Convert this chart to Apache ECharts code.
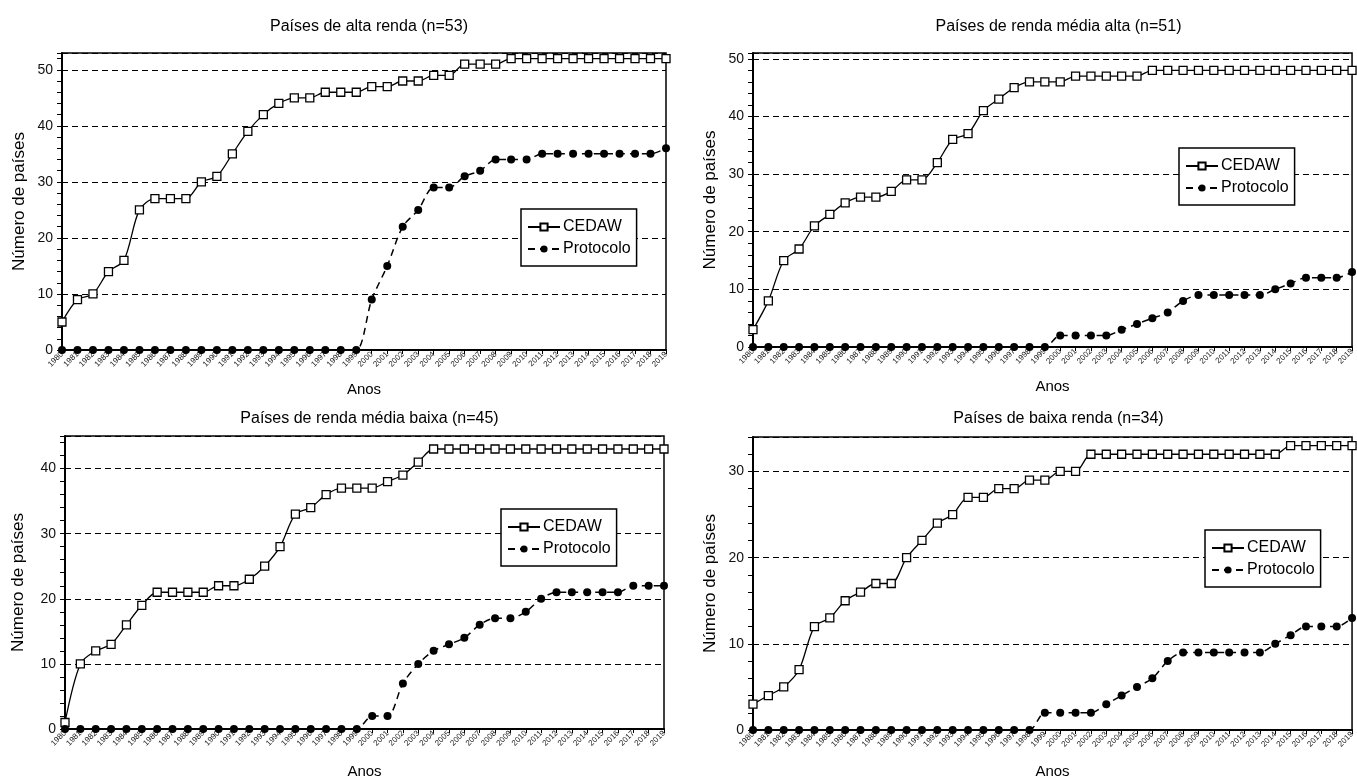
<!DOCTYPE html>
<html>
<head>
<meta charset="utf-8">
<title>Ratificação da CEDAW e do Protocolo Facultativo por grupo de renda</title>
<script src="https://cdn.jsdelivr.net/npm/echarts@6/dist/echarts.min.js"></script>
<style>
  html, body { margin: 0; padding: 0; background: #fff; }
  #chart { width: 1357px; height: 780px; }
</style>
</head>
<body>
<div id="chart"></div>
<script>
// Anos (eixo x)
const years = ['1980','1981','1982','1983','1984','1985','1986','1987','1988','1989',
               '1990','1991','1992','1993','1994','1995','1996','1997','1998','1999',
               '2000','2001','2002','2003','2004','2005','2006','2007','2008','2009',
               '2010','2011','2012','2013','2014','2015','2016','2017','2018','2019'];

const seriesNames = ['CEDAW', 'Protocolo'];

// Países de alta renda (n=53)
const highCedaw = [5, 9, 10, 14, 16, 25, 27, 27, 27, 30,
                   31, 35, 39, 42, 44, 45, 45, 46, 46, 46,
                   47, 47, 48, 48, 49, 49, 51, 51, 51, 52,
                   52, 52, 52, 52, 52, 52, 52, 52, 52, 52];
const highProt  = [0, 0, 0, 0, 0, 0, 0, 0, 0, 0,
                   0, 0, 0, 0, 0, 0, 0, 0, 0, 0,
                   9, 15, 22, 25, 29, 29, 31, 32, 34, 34,
                   34, 35, 35, 35, 35, 35, 35, 35, 35, 36];

// Países de renda média alta (n=51)
const upperMidCedaw = [3, 8, 15, 17, 21, 23, 25, 26, 26, 27,
                       29, 29, 32, 36, 37, 41, 43, 45, 46, 46,
                       46, 47, 47, 47, 47, 47, 48, 48, 48, 48,
                       48, 48, 48, 48, 48, 48, 48, 48, 48, 48];
const upperMidProt  = [0, 0, 0, 0, 0, 0, 0, 0, 0, 0,
                       0, 0, 0, 0, 0, 0, 0, 0, 0, 0,
                       2, 2, 2, 2, 3, 4, 5, 6, 8, 9,
                       9, 9, 9, 9, 10, 11, 12, 12, 12, 13];

// Países de renda média baixa (n=45)
const lowerMidCedaw = [1, 10, 12, 13, 16, 19, 21, 21, 21, 21,
                       22, 22, 23, 25, 28, 33, 34, 36, 37, 37,
                       37, 38, 39, 41, 43, 43, 43, 43, 43, 43,
                       43, 43, 43, 43, 43, 43, 43, 43, 43, 43];
const lowerMidProt  = [0, 0, 0, 0, 0, 0, 0, 0, 0, 0,
                       0, 0, 0, 0, 0, 0, 0, 0, 0, 0,
                       2, 2, 7, 10, 12, 13, 14, 16, 17, 17,
                       18, 20, 21, 21, 21, 21, 21, 22, 22, 22];

// Países de baixa renda (n=34)
const lowCedaw = [3, 4, 5, 7, 12, 13, 15, 16, 17, 17,
                  20, 22, 24, 25, 27, 27, 28, 28, 29, 29,
                  30, 30, 32, 32, 32, 32, 32, 32, 32, 32,
                  32, 32, 32, 32, 32, 33, 33, 33, 33, 33];
const lowProt  = [0, 0, 0, 0, 0, 0, 0, 0, 0, 0,
                  0, 0, 0, 0, 0, 0, 0, 0, 0, 2,
                  2, 2, 2, 3, 4, 5, 6, 8, 9, 9,
                  9, 9, 9, 9, 10, 11, 12, 12, 12, 13];

// Painéis: título, total de países (topo do eixo y) e séries
const panels = [
  { title: 'Países de alta renda (n=53)',        n: 53, cedaw: highCedaw,     prot: highProt },
  { title: 'Países de renda média alta (n=51)',  n: 51, cedaw: upperMidCedaw, prot: upperMidProt },
  { title: 'Países de renda média baixa (n=45)', n: 45, cedaw: lowerMidCedaw, prot: lowerMidProt },
  { title: 'Países de baixa renda (n=34)',       n: 34, cedaw: lowCedaw,      prot: lowProt }
];

// Posição de cada painel na página (px)
const layout = [
  { left: 62,  top: 53,  width: 604, height: 297, titleTop: 14,  yGap: 34, xGap: 32, legend: { left: 521,  top: 209 } },
  { left: 753, top: 53,  width: 601, height: 294, titleTop: 14,  yGap: 34, xGap: 32, legend: { left: 1179, top: 148 } },
  { left: 65,  top: 436, width: 599, height: 296, titleTop: 406, yGap: 38, xGap: 35, legend: { left: 501,  top: 509 } },
  { left: 753, top: 437, width: 601, height: 296, titleTop: 406, yGap: 34, xGap: 34, legend: { left: 1205, top: 530 } }
];

const FONT = '"Liberation Sans", Arial, Helvetica, sans-serif';
const INK = '#000';

const option = {
  backgroundColor: '#fff',
  animation: false,
  textStyle: { fontFamily: FONT, color: INK },
  title: [], grid: [], xAxis: [], yAxis: [], legend: [], series: []
};

panels.forEach((p, i) => {
  const L = layout[i];

  option.title.push({
    text: p.title,
    left: L.left + L.width / 2,
    top: L.titleTop,
    textAlign: 'center',
    textStyle: { fontFamily: FONT, fontSize: 16, fontWeight: 'normal', color: INK }
  });

  option.grid.push({
    left: L.left, top: L.top, width: L.width, height: L.height,
    show: true, borderColor: INK, borderWidth: 1.5, backgroundColor: 'transparent'
  });

  option.xAxis.push({
    type: 'category', gridIndex: i, data: years, boundaryGap: false,
    name: 'Anos', nameLocation: 'middle', nameGap: L.xGap,
    nameTextStyle: { fontFamily: FONT, fontSize: 15, color: INK },
    axisLine: { lineStyle: { color: INK, width: 2 } },
    axisTick: { show: true, inside: false, length: 4, interval: 0, alignWithLabel: true,
                lineStyle: { color: INK, width: 1 } },
    axisLabel: { interval: 0, rotate: 45, fontSize: 8, margin: 3, color: '#222', fontFamily: FONT },
    splitLine: { show: false }
  });

  // eixo principal: rótulos a cada 10 e linhas tracejadas de grade
  option.yAxis.push({
    type: 'value', gridIndex: i, position: 'left', min: 0, max: p.n, interval: 10,
    name: 'Número de países', nameLocation: 'middle', nameGap: L.yGap,
    nameTextStyle: { fontFamily: FONT, fontSize: 17, color: INK },
    axisLine: { show: true, onZero: false, lineStyle: { color: INK, width: 2 } },
    axisTick: { show: false },
    axisLabel: { fontSize: 14, color: '#111', margin: 9, showMaxLabel: false, fontFamily: FONT },
    splitLine: { show: true, lineStyle: { color: INK, width: 1.2, type: [6, 4] } }
  });
  // eixo auxiliar: marcas menores a cada 2 países, do mesmo lado
  option.yAxis.push({
    type: 'value', gridIndex: i, position: 'left', offset: 0, min: 0, max: p.n, interval: 2,
    axisLine: { show: false, onZero: false },
    axisTick: { show: true, inside: false, length: 5, lineStyle: { color: INK, width: 1 } },
    axisLabel: { show: false },
    splitLine: { show: false }
  });

  option.legend.push({
    data: seriesNames,
    orient: 'vertical',
    left: L.legend.left, top: L.legend.top,
    backgroundColor: '#fff', borderColor: INK, borderWidth: 1.5, borderRadius: 0,
    padding: [10, 6, 9, 6],
    itemGap: 6, itemWidth: 32, itemHeight: 9,
    selectedMode: false,
    textStyle: { fontFamily: FONT, fontSize: 16, color: INK, padding: [0, 0, 0, -2] }
  });

  option.series.push({
    name: seriesNames[0], type: 'line', xAxisIndex: i, yAxisIndex: i * 2,
    data: p.cedaw, smooth: 0.3,
    symbol: 'rect', symbolSize: 8, showAllSymbol: true,
    itemStyle: { color: '#fff', borderColor: INK, borderWidth: 1.3 },
    lineStyle: { color: INK, width: 1.3, type: 'solid' },
    z: 3
  });
  option.series.push({
    name: seriesNames[1], type: 'line', xAxisIndex: i, yAxisIndex: i * 2,
    data: p.prot, smooth: 0.3,
    symbol: 'circle', symbolSize: 8, showAllSymbol: true,
    itemStyle: { color: INK, borderColor: INK, borderWidth: 0 },
    lineStyle: { color: INK, width: 1.5, type: [7, 5] },
    z: 4
  });
});

const chart = echarts.init(document.getElementById('chart'), null, { renderer: 'canvas' });
chart.setOption(option);
</script>
</body>
</html>
